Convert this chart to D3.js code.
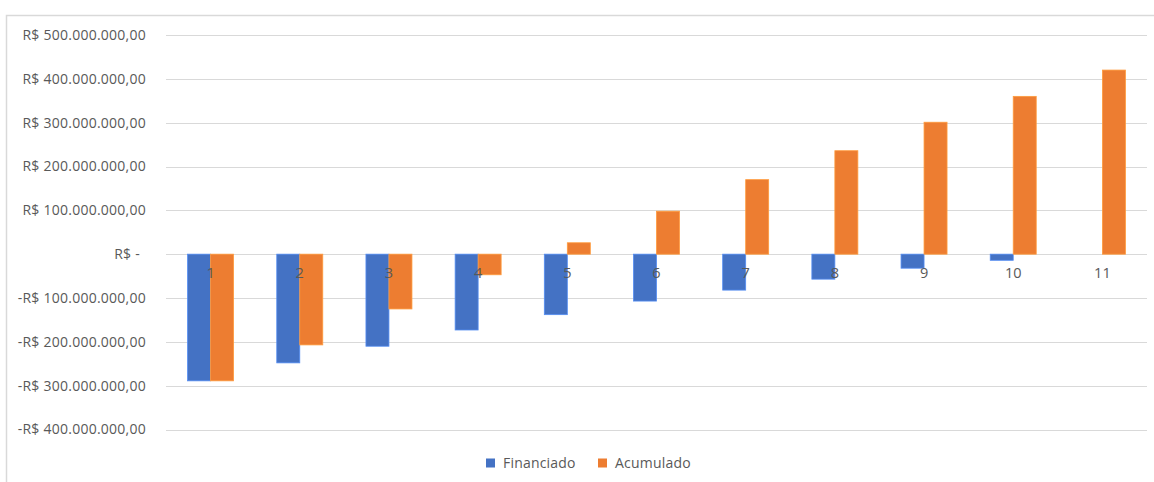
<!DOCTYPE html>
<html>
<head>
<meta charset="utf-8">
<script src="https://cdn.jsdelivr.net/npm/d3@7"></script>
<style>
  body { margin: 0; background: #fff; }
  svg { display: block; font-family: "Open Sans", "Noto Sans", sans-serif; }
</style>
</head>
<body>
<svg id="chart" width="1154" height="482"></svg>
<script>
// dados
const categorias = ['1', '2', '3', '4', '5', '6', '7', '8', '9', '10', '11'];
const financiado = [-289e6, -248e6, -210e6, -173e6, -138e6, -107e6, -82e6, -57e6, -32e6, -14e6, 0];
const acumulado = [-289e6, -207e6, -125e6, -47e6, 26e6, 98e6, 170e6, 236e6, 301e6, 360e6, 420e6];
const yTicks = [500e6, 400e6, 300e6, 200e6, 100e6, 0, -100e6, -200e6, -300e6, -400e6];
const series = [
  { nome: 'Financiado', valores: financiado, cor: '#4472C4' },
  { nome: 'Acumulado', valores: acumulado, cor: '#ED7D31' }
];

const svg = d3.select('#chart');
const W = 1154, H = 482;
const plot = { left: 166, right: 1147, top: 35, bottom: 429.5 };

// moldura do gráfico
svg.append('rect')
  .attr('x', 6.5).attr('y', 15.5)
  .attr('width', W).attr('height', H)
  .attr('fill', 'none')
  .attr('stroke', '#d9d9d9')
  .attr('stroke-width', 1.5);

const x = d3.scaleBand()
  .domain(categorias)
  .range([plot.left, plot.right]);

const y = d3.scaleLinear()
  .domain([-400e6, 500e6])
  .range([plot.bottom, plot.top]);

const br = d3.formatLocale({
  decimal: ',', thousands: '.', grouping: [3], currency: ['R$ ', ''], minus: '-'
});
const fmt = br.format('$,.2f');

// linhas de grade
svg.append('g')
  .selectAll('line')
  .data(yTicks)
  .join('line')
  .attr('x1', plot.left).attr('x2', plot.right)
  .attr('y1', d => Math.round(y(d)) + 0.5)
  .attr('y2', d => Math.round(y(d)) + 0.5)
  .attr('stroke', '#d9d9d9')
  .attr('stroke-width', 1.2);

// rótulos do eixo y
svg.append('g')
  .selectAll('text')
  .data(yTicks)
  .join('text')
  .attr('x', d => d === 0 ? 140 : 146)
  .attr('y', d => y(d))
  .attr('dy', '0.35em')
  .attr('text-anchor', 'end')
  .attr('fill', '#595959')
  .style('font-size', '14px')
  .style('letter-spacing', '0.25px')
  .text(d => d === 0 ? 'R$ -' : fmt(d));

// barras
const bw = 23;
const gBars = svg.append('g');
series.forEach((s, i) => {
  gBars.append('g')
    .selectAll('rect')
    .data(s.valores.map((v, k) => ({ cat: categorias[k], v: v })).filter(d => d.v !== 0))
    .join('rect')
    .attr('x', d => x(d.cat) + x.bandwidth() / 2 - bw + i * bw)
    .attr('y', d => y(Math.max(0, d.v)))
    .attr('width', bw)
    .attr('height', d => Math.abs(y(d.v) - y(0)))
    .attr('fill', s.cor)
    .attr('stroke', d3.color(s.cor).brighter(0.6))
    .attr('stroke-width', 0.8);
});

// rótulos das categorias (sobre as barras)
svg.append('g')
  .selectAll('text')
  .data(categorias)
  .join('text')
  .attr('x', d => x(d) + x.bandwidth() / 2)
  .attr('y', y(0) + 19)
  .attr('dy', '0.35em')
  .attr('text-anchor', 'middle')
  .attr('fill', '#595959')
  .style('font-size', '14.5px')
  .text(d => d);

// legenda
const leg = svg.append('g').attr('transform', 'translate(486,463)');
const pos = [0, 112];
series.forEach((s, i) => {
  const g = leg.append('g').attr('transform', `translate(${pos[i]},0)`);
  g.append('rect')
    .attr('x', 0).attr('y', -4.5)
    .attr('width', 9).attr('height', 9)
    .attr('fill', s.cor);
  g.append('text')
    .attr('x', 17).attr('y', 0)
    .attr('dy', '0.35em')
    .attr('fill', '#595959')
    .style('font-size', '14px')
    .style('letter-spacing', '0.2px')
    .text(s.nome);
});
</script>
</body>
</html>
